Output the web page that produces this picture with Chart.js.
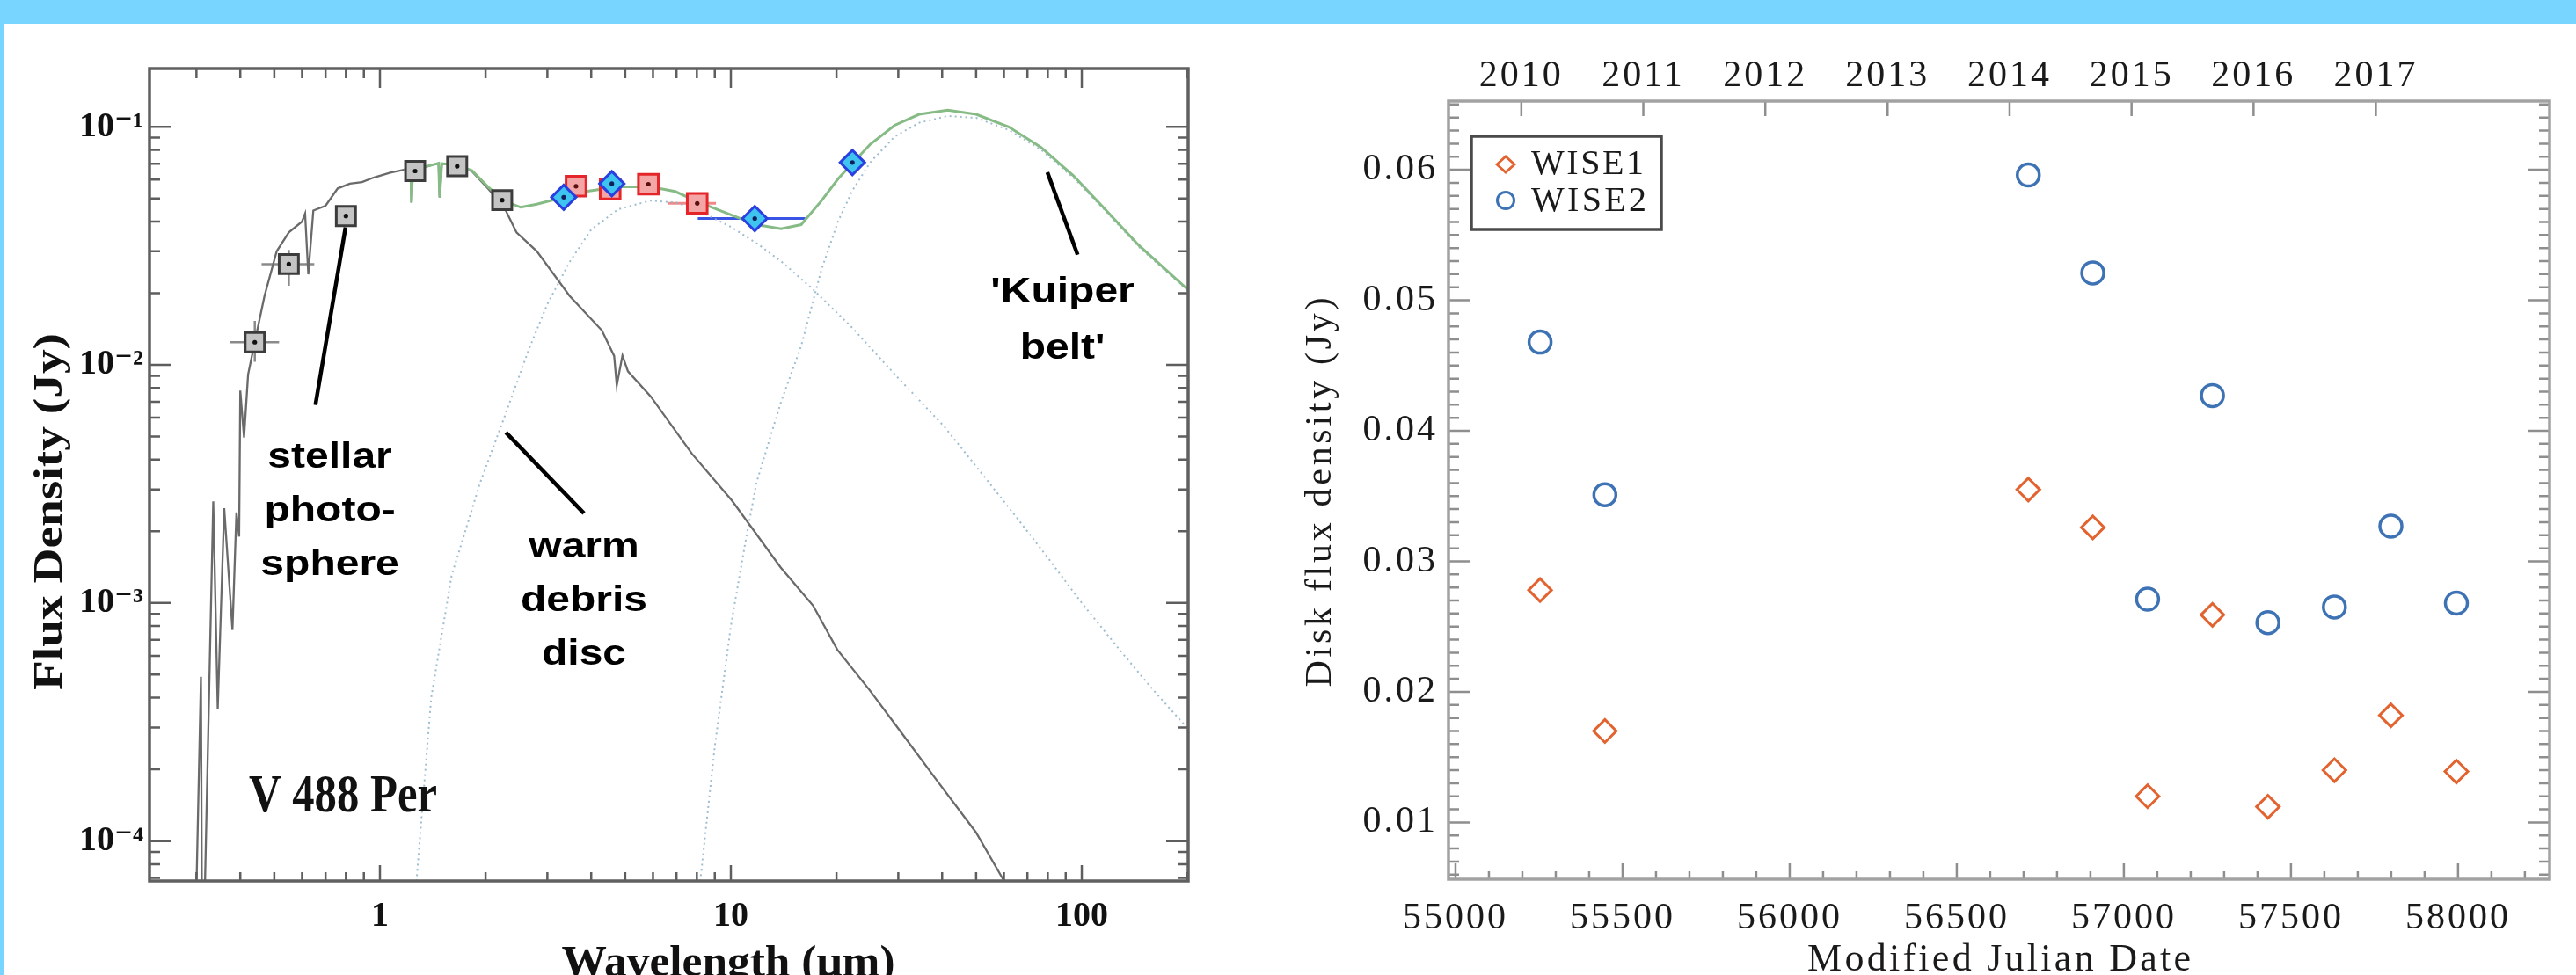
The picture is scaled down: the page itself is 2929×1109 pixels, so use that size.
<!DOCTYPE html>
<html><head><meta charset="utf-8">
<script src="https://cdn.jsdelivr.net/npm/chart.js@4.4.1/dist/chart.umd.min.js"></script>
<style>
html,body{margin:0;padding:0;background:#fff;overflow:hidden;width:2929px;height:1109px;position:relative;}
#band{position:absolute;left:0;top:0;width:2929px;height:27px;background:#77d5ff;z-index:5}
#strip{position:absolute;left:0;top:0;width:5px;height:1109px;background:#77d5ff;z-index:5}
#c1{position:absolute;left:0;top:0}
#c2{position:absolute;left:1440px;top:0}
</style></head><body>
<div id="band"></div><div id="strip"></div>
<canvas id="c1" width="1440" height="1150"></canvas>
<canvas id="c2" width="1489" height="1150"></canvas>
<script>
// ================= LEFT PANEL: SED of V 488 Per =================
const sedXRange = [0.2205, 201];
const sedYRange = [6.8e-5, 0.1756];
const sedXTicks = [1, 10, 100];
const sedXTickLabels = ['1', '10', '100'];
const sedYTicks = [1e-4, 1e-3, 1e-2, 1e-1];
const sedYTickLabels = ['10\u207B\u2074', '10\u207B\u00B3', '10\u207B\u00B2', '10\u207B\u00B9'];

// stellar photosphere model (gray)
const photoLambda = [0.299,0.309,0.311,0.316,0.335,0.345,0.360,0.380,0.390,0.397,0.400,0.410,0.421,0.440,0.469,0.508,0.550,0.600,0.612,0.625,0.646,0.700,0.758,0.821,0.889,0.963,1.07,1.17,1.225,1.23,1.24,1.35,1.47,1.48,1.50,1.64,1.83,2.03,2.26,2.45,2.80,3.47,4.29,4.65,4.73,4.91,5.09,5.91,7.73,10.08,13.87,17.15,20.1,24.9,30.9,38.3,49.9,59.7,65];
const photoFlux = [5e-5,4.9e-4,5e-5,5e-5,2.67e-3,3.6e-4,2.5e-3,7.7e-4,2.4e-3,1.9e-3,7.8e-3,4.95e-3,9.1e-3,0.0125,0.0195,0.030,0.036,0.040,0.0432,0.024,0.0445,0.0466,0.0551,0.0577,0.0586,0.0613,0.0642,0.066,0.0662,0.048,0.066,0.068,0.0703,0.0505,0.070,0.0693,0.065,0.0551,0.0459,0.036,0.030,0.0195,0.01396,0.0109,0.0082,0.01095,0.0094,0.00737,0.00425,0.00269,0.00141,9.75e-4,6.37e-4,4.29e-4,2.8e-4,1.83e-4,1.09e-4,6.9e-5,5.6e-5];

// total model (green)
const totalLambda = [1.17,1.225,1.23,1.24,1.35,1.47,1.48,1.50,1.64,1.83,2.03,2.26,2.52,2.80,3.29,3.86,4.77,5.91,6.94,8.15,10.08,11.83,13.9,15.86,18.1,20.2,22.2,24.97,29.3,34.4,41.5,50.0,61.9,76.6,94.8,117.5,145.3,200];
const totalFlux = [0.066,0.0662,0.048,0.066,0.068,0.0703,0.0505,0.070,0.0693,0.0655,0.056,0.0488,0.0459,0.0473,0.0503,0.0535,0.056,0.056,0.0535,0.0481,0.0425,0.0388,0.0373,0.0388,0.0488,0.0604,0.0703,0.0845,0.1015,0.1128,0.1174,0.1128,0.0999,0.0819,0.0622,0.0445,0.0318,0.0208];

// warm debris disc (dotted)
const warmLambda = [1.25,1.4,1.6,1.93,2.26,2.65,3.0,3.47,4.0,4.77,5.9,7.0,8.2,10,12,14,17,22,30,40.6,52.7,65,80,100,130,160,200];
const warmFlux = [5e-5,4e-4,1.3e-3,3.2e-3,6e-3,0.0115,0.018,0.027,0.037,0.045,0.049,0.048,0.044,0.038,0.032,0.027,0.021,0.0145,0.0088,0.0055,0.0034,0.0023,0.00155,0.001,0.00062,0.00043,0.000298];

// cold 'Kuiper belt' (dotted)
const coldLambda = [8.0,9.0,10.0,11.0,11.83,13.9,15.86,18.1,20.2,22.2,24.97,29.3,34.4,41.5,50.0,61.9,76.6,94.8,117.5,145.3,200];
const coldFlux = [5e-5,2.5e-4,8e-4,1.8e-3,3.2e-3,7e-3,0.012,0.025,0.040,0.054,0.071,0.091,0.104,0.111,0.109,0.097,0.080,0.061,0.044,0.0313,0.0205];

// photometry (black squares)
const optLambda = [0.44, 0.55, 0.80, 1.26, 1.66, 2.23];
const optFlux = [0.01245, 0.0265, 0.0422, 0.0652, 0.0683, 0.0492];
const optXLo = [0.375, 0.46, null, null, null, null];
const optXHi = [0.516, 0.65, null, null, null, null];
const optYLo = [0.0103, 0.0215, null, null, null, null];
const optYHi = [0.0153, 0.0304, null, null, null, null];

// Spitzer (red squares)
const irsLambda = [3.62, 4.53, 5.82, 8.02];
const irsFlux = [0.0563, 0.0548, 0.0574, 0.0477];
const irsXLo = [null, null, null, 6.6];
const irsXHi = [null, null, null, 9.07];

// WISE (blue diamonds)
const wiseLambda = [3.34, 4.58, 11.7, 22.2];
const wiseFlux = [0.0506, 0.0577, 0.0412, 0.0708];
const wiseXLo = [null, null, 8.05, null];
const wiseXHi = [null, null, 16.3, null];
const wiseYLo = [null, null, null, 0.0632];
const wiseYHi = [null, null, null, 0.0795];

// annotations (anchored in data units)
const sedNotes = [
  { lines: ['stellar', 'photo-', 'sphere'], at: [0.72, 0.0037] },
  { lines: ['warm', 'debris', 'disc'], at: [3.815, 0.001554] },
  { lines: ["'Kuiper", "belt'"], at: [88.1, 0.01824] }
];
const sedPointers = [
  [[0.798, 0.0378], [0.655, 0.00679]],
  [[2.285, 0.0052], [3.815, 0.00238]],
  [[79.8, 0.0644], [97.3, 0.029]]
];
const starName = { text: 'V 488 Per', at: [0.423, 1.326e-4] };

// ================= RIGHT PANEL: WISE light curve =================
const mjd = [55253, 55447, 56714, 56907, 57071, 57265, 57431, 57630, 57799, 57995];
const wise1Flux = [0.0278, 0.0170, 0.0355, 0.0326, 0.0120, 0.0259, 0.0112, 0.0140, 0.0182, 0.0139];
const wise2Flux = [0.0468, 0.0351, 0.0596, 0.0521, 0.0271, 0.0427, 0.0253, 0.0265, 0.0327, 0.0268];
const mjdRange = [54979, 58274];
const fluxRange = [0.00565, 0.06526];
const mjdTicks = [55000, 55500, 56000, 56500, 57000, 57500, 58000];
const mjdTickLabels = ['55000', '55500', '56000', '56500', '57000', '57500', '58000'];
const fluxTicks = [0.01, 0.02, 0.03, 0.04, 0.05, 0.06];
const fluxTickLabels = ['0.01', '0.02', '0.03', '0.04', '0.05', '0.06'];
const yearTicks = [55197, 55562, 55927, 56293, 56658, 57023, 57388, 57754];
const yearLabels = ['2010', '2011', '2012', '2013', '2014', '2015', '2016', '2017'];

// ================= helpers =================
const SERIF = '"Liberation Serif", "DejaVu Serif", "Times New Roman", serif';
const SANS = '"Liberation Sans", Arial, Helvetica, sans-serif';
const zip = (xs, ys) => xs.map((x, i) => ({ x: x, y: ys[i] }));

function logMinors(min, max) {
  const out = [];
  for (let d = Math.floor(Math.log10(min)); d <= Math.ceil(Math.log10(max)); d++) {
    for (let m = 2; m <= 9; m++) {
      const v = m * Math.pow(10, d);
      if (v >= min && v <= max) out.push(v);
    }
  }
  return out;
}
function linMinors(min, max, step, majorStep) {
  const out = [];
  const ratio = Math.round(majorStep / step);
  for (let k = Math.ceil(min / step - 1e-9); k * step <= max + 1e-12; k++) {
    if (k % ratio !== 0) out.push(k * step);
  }
  return out;
}
function drawTicks(chart, specs, color, width) {
  const { ctx, chartArea: a, scales } = chart;
  ctx.save();
  ctx.strokeStyle = color; ctx.lineWidth = width;
  ctx.beginPath();
  for (const t of specs) {
    const sc = scales[t.scale];
    for (const v of t.values) {
      const p = sc.getPixelForValue(v);
      if (t.side === 'bottom') { ctx.moveTo(p, a.bottom); ctx.lineTo(p, a.bottom - t.len); }
      else if (t.side === 'top') { ctx.moveTo(p, a.top); ctx.lineTo(p, a.top + t.len); }
      else if (t.side === 'left') { ctx.moveTo(a.left, p); ctx.lineTo(a.left + t.len, p); }
      else { ctx.moveTo(a.right, p); ctx.lineTo(a.right - t.len, p); }
    }
  }
  ctx.stroke();
  ctx.restore();
}
function drawFrame(chart, color, width) {
  const { ctx, chartArea: a } = chart;
  ctx.save();
  ctx.strokeStyle = color; ctx.lineWidth = width;
  ctx.strokeRect(a.left, a.top, a.right - a.left, a.bottom - a.top);
  ctx.restore();
}
function drawText(ctx, txt, x, y, o) {
  ctx.save();
  ctx.font = o.font;
  ctx.letterSpacing = '0px';
  ctx.fillStyle = o.color || '#111';
  ctx.textBaseline = o.baseline || 'alphabetic';
  ctx.textAlign = 'left';
  const w = ctx.measureText(txt).width;
  const target = o.width || (o.sx ? w * o.sx : w);
  ctx.translate(x, y);
  if (o.rot) ctx.rotate(o.rot);
  const x0 = o.align === 'center' ? -target / 2 : 0;
  if (o.mode === 'space') {
    const n = [...txt].length;
    ctx.letterSpacing = ((target - w) / Math.max(1, n - 1)).toFixed(2) + 'px';
    ctx.fillText(txt, x0, 0);
  } else {
    const sx = target / w;
    ctx.scale(sx, 1);
    ctx.fillText(txt, x0 / sx, 0);
  }
  ctx.restore();
}

Chart.defaults.font.family = SERIF;

// ================= LEFT CHART =================
const sedDecor = {
  id: 'sedDecor',
  beforeDatasetsDraw(chart) {
    const { ctx, scales: { x, y } } = chart;
    const bars = (lam, f, xlo, xhi, ylo, yhi, color, w) => {
      ctx.save(); ctx.strokeStyle = color; ctx.lineWidth = w; ctx.beginPath();
      lam.forEach((l, i) => {
        const px = x.getPixelForValue(l), py = y.getPixelForValue(f[i]);
        if (xlo && xlo[i] != null) { ctx.moveTo(x.getPixelForValue(xlo[i]), py); ctx.lineTo(x.getPixelForValue(xhi[i]), py); }
        if (ylo && ylo[i] != null) { ctx.moveTo(px, y.getPixelForValue(ylo[i])); ctx.lineTo(px, y.getPixelForValue(yhi[i])); }
      });
      ctx.stroke(); ctx.restore();
    };
    bars(optLambda, optFlux, optXLo, optXHi, optYLo, optYHi, '#8a8a8a', 2.5);
    bars(irsLambda, irsFlux, irsXLo, irsXHi, null, null, '#f08a8a', 3);
    bars(wiseLambda, wiseFlux, wiseXLo, wiseXHi, wiseYLo, wiseYHi, '#3a55e6', 3);
  },
  afterDatasetsDraw(chart) {
    const xm = logMinors(sedXRange[0], sedXRange[1]);
    const ym = logMinors(sedYRange[0], sedYRange[1]);
    drawTicks(chart, [
      { scale: 'x', side: 'bottom', values: sedXTicks, len: 18 },
      { scale: 'x', side: 'bottom', values: xm, len: 10 },
      { scale: 'x', side: 'top', values: sedXTicks, len: 22 },
      { scale: 'x', side: 'top', values: xm, len: 11 },
      { scale: 'y', side: 'left', values: sedYTicks, len: 25 },
      { scale: 'y', side: 'left', values: ym, len: 12 },
      { scale: 'y', side: 'right', values: sedYTicks, len: 25 },
      { scale: 'y', side: 'right', values: ym, len: 12 }
    ], '#5e5e5e', 2.5);
    drawFrame(chart, '#606060', 3.5);
  },
  afterDraw(chart) {
    const { ctx, chartArea: a, scales: { x, y } } = chart;
    // pointer lines
    ctx.save();
    ctx.strokeStyle = '#000'; ctx.lineWidth = 4.5;
    ctx.beginPath();
    sedPointers.forEach(p => {
      ctx.moveTo(x.getPixelForValue(p[0][0]), y.getPixelForValue(p[0][1]));
      ctx.lineTo(x.getPixelForValue(p[1][0]), y.getPixelForValue(p[1][1]));
    });
    ctx.stroke();
    ctx.restore();
    // annotation labels
    sedNotes.forEach(n => {
      const cx = x.getPixelForValue(n.at[0]);
      const by = y.getPixelForValue(n.at[1]);
      const gap = n.lines.length === 2 ? 64 : 61;
      n.lines.forEach((t, i) => drawText(ctx, t, cx, by + i * gap,
        { font: 'bold 40px ' + SANS, sx: 1.2, align: 'center', color: '#000' }));
    });
    // star name
    drawText(ctx, starName.text, x.getPixelForValue(starName.at[0]), y.getPixelForValue(starName.at[1]),
      { font: 'bold 62px ' + SERIF, width: 214, align: 'left', color: '#111' });
    // axis titles
    drawText(ctx, 'Wavelength (\u03BCm)', 828, 1110,
      { font: 'bold 50px ' + SERIF, width: 379, align: 'center', color: '#111' });
    drawText(ctx, 'Flux Density (Jy)', 58, 582,
      { font: 'bold 46px ' + SERIF, width: 406, align: 'center', baseline: 'middle', rot: -Math.PI / 2, color: '#111' });
  }
};

const curve = (xs, ys, color, width, dash, order) => ({
  data: zip(xs, ys), showLine: true, borderColor: color, borderWidth: width,
  borderDash: dash || [], pointRadius: 0, pointHoverRadius: 0, fill: false, tension: 0, order: order
});
const markers = (xs, ys, style, r, border, fill, bw, order) => ({
  data: zip(xs, ys), showLine: false, pointStyle: style, pointRadius: r, pointHoverRadius: r,
  borderColor: border, backgroundColor: fill, borderWidth: bw, order: order
});
const dots = (xs, ys, color, order) => ({
  data: zip(xs, ys), showLine: false, pointStyle: 'circle', pointRadius: 2.6, pointHoverRadius: 2.6,
  borderWidth: 0, backgroundColor: color, borderColor: color, order: order
});

new Chart(document.getElementById('c1'), {
  type: 'scatter',
  data: {
    datasets: [
      curve(warmLambda, warmFlux, 'rgba(140,178,200,0.85)', 2, [2, 4], 10),
      curve(coldLambda, coldFlux, 'rgba(140,178,200,0.85)', 2, [2, 4], 10),
      curve(photoLambda, photoFlux, '#6a6a6a', 2.3, null, 9),
      curve(totalLambda, totalFlux, '#86bb86', 3, null, 8),
      markers(optLambda, optFlux, 'rect', 15.5, '#3c3c3c', '#c4c4c4', 3, 6),
      dots(optLambda, optFlux, '#111', 5),
      markers(irsLambda, irsFlux, 'rect', 16, '#e4262a', '#f4a6a6', 3, 4),
      dots(irsLambda, irsFlux, '#5a1010', 3),
      markers(wiseLambda, wiseFlux, 'rectRot', 14, '#2a3fe0', '#3ec4ee', 3, 2),
      dots(wiseLambda, wiseFlux, '#10205a', 1)
    ]
  },
  options: {
    responsive: false, devicePixelRatio: 1, animation: false, events: [],
    layout: { padding: { left: 0, top: 78, right: 89, bottom: 0 } },
    plugins: { legend: { display: false }, tooltip: { enabled: false } },
    scales: {
      x: {
        type: 'logarithmic', min: sedXRange[0], max: sedXRange[1],
        afterBuildTicks: s => { s.ticks = sedXTicks.map(v => ({ value: v })); },
        afterFit: s => { s.height = 148; },
        ticks: { callback: (v, i) => sedXTickLabels[i], autoSkip: false, maxRotation: 0, minRotation: 0,
          padding: 17, color: '#111', font: { family: SERIF, size: 40, weight: 'bold' } },
        grid: { display: false, drawTicks: false }, border: { display: false }
      },
      y: {
        type: 'logarithmic', min: sedYRange[0], max: sedYRange[1],
        afterBuildTicks: s => { s.ticks = sedYTicks.map(v => ({ value: v })); },
        afterFit: s => { s.width = 170; },
        ticks: { callback: (v, i) => sedYTickLabels[i], autoSkip: false, padding: 7, color: '#111',
          font: { family: SERIF, size: 40, weight: 'bold' } },
        grid: { display: false, drawTicks: false }, border: { display: false }
      }
    }
  },
  plugins: [sedDecor]
});

// ================= RIGHT CHART =================
const spacing = {
  id: 'spacing',
  beforeLayout(c) { c.ctx.letterSpacing = '3px'; },
  beforeDraw(c) { c.ctx.letterSpacing = '3px'; }
};
const lcDecor = {
  id: 'lcDecor',
  afterDatasetsDraw(chart) {
    drawTicks(chart, [
      { scale: 'x', side: 'bottom', values: mjdTicks, len: 18 },
      { scale: 'x', side: 'bottom', values: linMinors(mjdRange[0], mjdRange[1], 100, 500), len: 9 },
      { scale: 'x', side: 'top', values: yearTicks, len: 17 },
      { scale: 'y', side: 'left', values: fluxTicks, len: 25 },
      { scale: 'y', side: 'left', values: linMinors(fluxRange[0], fluxRange[1], 0.001, 0.01), len: 12 },
      { scale: 'y', side: 'right', values: fluxTicks, len: 25 },
      { scale: 'y', side: 'right', values: linMinors(fluxRange[0], fluxRange[1], 0.001, 0.01), len: 12 }
    ], '#8e8e8e', 2.5);
    drawFrame(chart, '#a2a2a2', 3.5);
  },
  afterDraw(chart) {
    const { ctx, chartArea: a } = chart;
    drawText(ctx, 'Modified Julian Date', (a.left + a.right) / 2, 1104,
      { font: '44px ' + SERIF, width: 436, mode: 'space', align: 'center', color: '#1a1a1a' });
    drawText(ctx, 'Disk flux density (Jy)', 62, 560,
      { font: '42px ' + SERIF, width: 443, mode: 'space', align: 'center', baseline: 'middle', rot: -Math.PI / 2, color: '#1a1a1a' });
    // legend
    const bx = a.left + 26, by = a.top + 40;
    ctx.save();
    ctx.letterSpacing = '0px';
    ctx.strokeStyle = '#4a4a4a'; ctx.lineWidth = 3.5;
    ctx.strokeRect(bx, by, 216, 106);
    const ds = chart.data.datasets;
    // diamond
    ctx.strokeStyle = ds[0].borderColor; ctx.lineWidth = 2.8;
    ctx.beginPath();
    const dx = bx + 39, dy = by + 32;
    ctx.moveTo(dx - 10, dy); ctx.lineTo(dx, dy - 9); ctx.lineTo(dx + 10, dy); ctx.lineTo(dx, dy + 9); ctx.closePath();
    ctx.stroke();
    // circle
    ctx.strokeStyle = ds[1].borderColor; ctx.lineWidth = 3;
    ctx.beginPath(); ctx.arc(bx + 39, by + 73, 9.5, 0, Math.PI * 2); ctx.stroke();
    ctx.restore();
    drawText(ctx, ds[0].label, bx + 68, by + 43, { font: '40px ' + SERIF, width: 128, mode: 'space', align: 'left', color: '#1a1a1a' });
    drawText(ctx, ds[1].label, bx + 68, by + 85, { font: '40px ' + SERIF, width: 131, mode: 'space', align: 'left', color: '#1a1a1a' });
  }
};

const tickFont = { family: SERIF, size: 42, weight: 'normal' };
new Chart(document.getElementById('c2'), {
  type: 'scatter',
  data: {
    datasets: [
      { label: 'WISE1', data: zip(mjd, wise1Flux), pointStyle: 'rectRot', pointRadius: 13, pointHoverRadius: 13,
        borderColor: '#e2632f', backgroundColor: 'rgba(255,255,255,0)', borderWidth: 3 },
      { label: 'WISE2', data: zip(mjd, wise2Flux), pointStyle: 'circle', pointRadius: 12.5, pointHoverRadius: 12.5,
        borderColor: '#3d72b4', backgroundColor: 'rgba(255,255,255,0)', borderWidth: 3.5 }
    ]
  },
  options: {
    responsive: false, devicePixelRatio: 1, animation: false, events: [],
    layout: { padding: { left: 0, top: 0, right: 30, bottom: 0 } },
    plugins: { legend: { display: false }, tooltip: { enabled: false } },
    scales: {
      x: {
        type: 'linear', position: 'bottom', min: mjdRange[0], max: mjdRange[1],
        afterBuildTicks: s => { s.ticks = mjdTicks.map(v => ({ value: v })); },
        afterFit: s => { s.height = 150; },
        ticks: { callback: (v, i) => mjdTickLabels[i], autoSkip: false, maxRotation: 0, minRotation: 0,
          padding: 20, color: '#1a1a1a', font: tickFont },
        grid: { display: false, drawTicks: false }, border: { display: false }
      },
      x2: {
        type: 'linear', position: 'top', min: mjdRange[0], max: mjdRange[1],
        afterBuildTicks: s => { s.ticks = yearTicks.map(v => ({ value: v })); },
        afterFit: s => { s.height = 115; },
        ticks: { callback: (v, i) => yearLabels[i], autoSkip: false, maxRotation: 0, minRotation: 0,
          padding: 3, color: '#1a1a1a', font: tickFont },
        grid: { display: false, drawTicks: false }, border: { display: false }
      },
      y: {
        type: 'linear', min: fluxRange[0], max: fluxRange[1],
        afterBuildTicks: s => { s.ticks = fluxTicks.map(v => ({ value: v })); },
        afterFit: s => { s.width = 207; },
        ticks: { callback: (v, i) => fluxTickLabels[i], autoSkip: false, padding: 12, color: '#1a1a1a', font: tickFont },
        grid: { display: false, drawTicks: false }, border: { display: false }
      }
    }
  },
  plugins: [spacing, lcDecor]
});
</script>
</body></html>
